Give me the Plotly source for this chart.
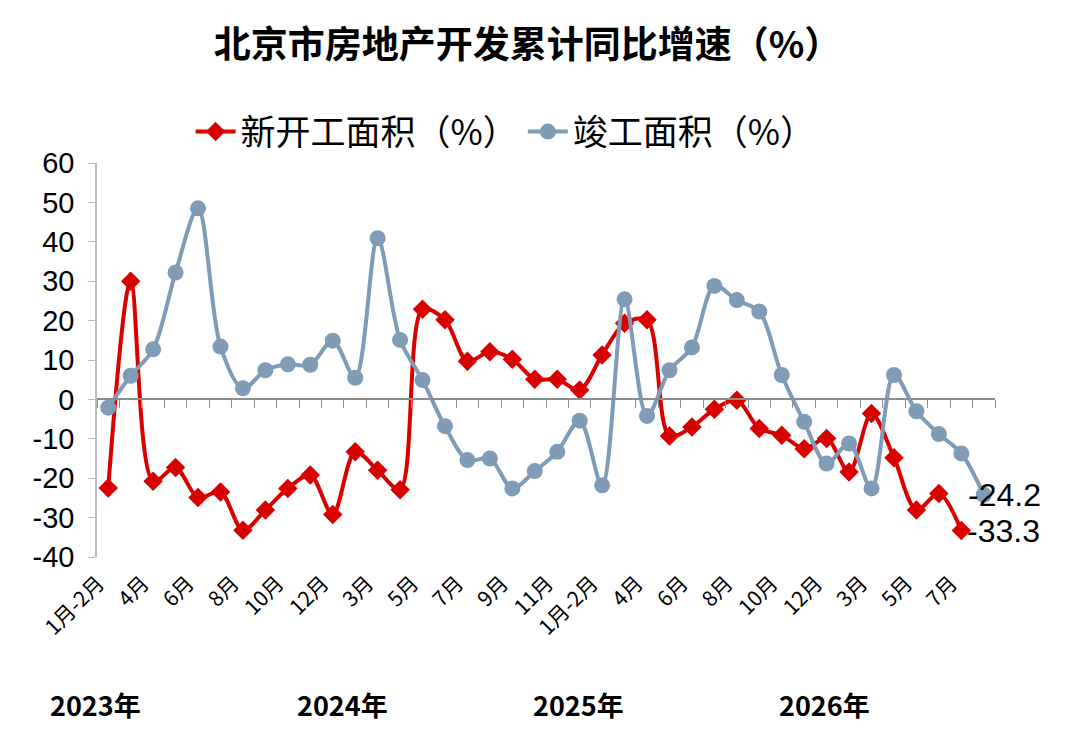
"""北京市房地产开发累计同比增速 — 折线图 (Plotly)."""

import plotly.graph_objects as go

# 月份标签（2023年1月-2月 至 2026年8月）
months = (
    ["1月-2月", "3月", "4月", "5月", "6月", "7月", "8月", "9月", "10月", "11月", "12月"] * 3
    + ["1月-2月", "3月", "4月", "5月", "6月", "7月", "8月"]
)
years = ["2023年", "2024年", "2025年", "2026年"]
y_ticks = [-40, -30, -20, -10, 0, 10, 20, 30, 40, 50, 60]

# 新开工面积（%）
new_start = [
    -22.5, 30.0, -20.8, -17.3, -24.9, -23.5, -33.2, -28.1, -22.6, -19.2, -29.2,
    -13.3, -18.0, -22.9, 22.9, 20.2, 9.7, 12.1, 10.2, 5.1, 5.1, 2.4,
    11.3, 19.3, 20.2, -9.3, -7.0, -2.5, -0.2, -7.4, -9.1, -12.5, -9.9,
    -18.4, -3.6, -14.8, -28.1, -23.9, -33.3, None,
]
# 竣工面积（%）
completed = [
    -2.1, 6.0, 12.7, 32.2, 48.5, 13.4, 2.8, 7.4, 8.9, 8.8, 14.9,
    5.5, 40.9, 15.1, 4.9, -6.8, -15.4, -15.0, -22.6, -18.2, -13.3, -5.4,
    -21.8, 25.4, -4.2, 7.4, 13.2, 28.8, 25.2, 22.3, 6.2, -5.7, -16.3,
    -11.2, -22.6, 6.2, -3.0, -8.8, -13.7, -24.2,
]

RED = "#D90000"
BLUE = "#7F9BB6"
CJK = "Noto Sans CJK SC"
NUM = "Liberation Sans"

idx = list(range(len(months)))

fig = go.Figure()
fig.add_trace(go.Scatter(
    x=idx, y=new_start, name="新开工面积（%）", mode="lines+markers",
    line=dict(color=RED, width=4, shape="spline", smoothing=0.9),
    marker=dict(symbol="diamond", size=15, color=RED),
    connectgaps=False,
))
fig.add_trace(go.Scatter(
    x=idx, y=completed, name="竣工面积（%）", mode="lines+markers",
    line=dict(color=BLUE, width=4, shape="spline", smoothing=0.9),
    marker=dict(symbol="circle", size=16, color=BLUE),
))
# 零轴（带分类刻度）
fig.add_trace(go.Scatter(x=[None], y=[None], xaxis="x2", showlegend=False, hoverinfo="skip"))

# 末值标注
last_red = max(i for i, v in enumerate(new_start) if v is not None)
last_blue = len(completed) - 1
for i, v, shift in [(last_blue, completed[last_blue], -18), (last_red, new_start[last_red], 4)]:
    fig.add_annotation(
        x=i, y=v, text=f"{v:.1f}", showarrow=False, xanchor="left", yanchor="middle",
        xshift=shift, font=dict(family=NUM, size=32, color="black"),
    )

# 年份标签
for yr, xpos in zip(years, [-0.002, 0.273, 0.536, 0.81]):
    fig.add_annotation(
        x=xpos, xref="paper", y=-0.375, yref="paper", text=f"<b>{yr}</b>", showarrow=False,
        xanchor="center", yanchor="middle", font=dict(family=CJK, size=27, color="black"),
    )

tick_pos = idx[::2]
fig.update_layout(
    width=1080, height=738,
    paper_bgcolor="white", plot_bgcolor="white",
    margin=dict(l=89, r=93, t=155, b=189),
    title=dict(
        text="<b>北京市房地产开发累计同比增速（%）</b>", x=0.481, xanchor="center",
        y=0.95, yanchor="middle", font=dict(family=CJK, size=37, color="black"),
    ),
    legend=dict(
        orientation="h", x=0.455, xanchor="center", y=1.079, yanchor="middle",
        font=dict(family=CJK, size=35, color="black"), itemwidth=40,
        bgcolor="rgba(0,0,0,0)",
    ),
    showlegend=True,
    xaxis=dict(
        range=[-0.5, len(months) - 0.5], tickmode="array",
        tickvals=[i - 0.45 for i in tick_pos],
        ticktext=[months[i] for i in tick_pos], tickangle=-45, showgrid=False,
        zeroline=False, showline=False, ticks="", ticklabelstandoff=9,
        tickfont=dict(family=CJK, size=21, color="black"), automargin=False,
    ),
    xaxis2=dict(
        overlaying="x", anchor="free", position=0.4, side="bottom",
        range=[-0.5, len(months) - 0.5], matches="x", showgrid=False, zeroline=False,
        showline=True, linecolor="#8C8C8C", linewidth=1.5,
        tickmode="array", tickvals=[i - 0.5 for i in range(len(months) + 1)],
        ticks="outside", ticklen=8, tickcolor="#8C8C8C", showticklabels=False,
        automargin=False,
    ),
    yaxis=dict(
        range=[-40, 60], tickmode="array", tickvals=y_ticks,
        ticktext=[str(v) for v in y_ticks], showgrid=False, zeroline=False,
        showline=True, linecolor="#BBBBBB", linewidth=1.5,
        ticks="outside", ticklen=7, tickcolor="#BBBBBB", ticklabelstandoff=8,
        tickfont=dict(family=NUM, size=29, color="black"), automargin=False,
    ),
)

fig.write_html("out.html")
